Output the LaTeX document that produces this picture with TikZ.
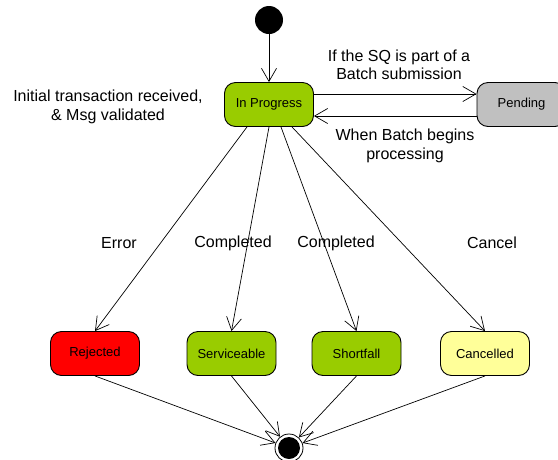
\documentclass[tikz,border=0pt]{standalone}
\usepackage{fontspec}
\setmainfont{Liberation Sans}
\usetikzlibrary{arrows.meta}
\definecolor{lgreen}{HTML}{99CC00}
\definecolor{lgray}{HTML}{C0C0C0}
\definecolor{lyellow}{HTML}{FFFF99}
\begin{document}
\begin{tikzpicture}[x=1pt,y=-1pt,
  state/.style={draw=black,line width=0.9pt,rounded corners=11pt,minimum width=89pt,minimum height=44pt,inner sep=0pt,font=\fontsize{13}{15}\selectfont},
  lbl/.style={font=\fontsize{16}{18.5}\selectfont,align=center,inner sep=0pt},
  arr/.style={line width=0.7pt,-{Straight Barb[length=13pt,width=15pt,line width=0.7pt]}},
  ln/.style={line width=0.7pt}]
\useasboundingbox (0,0) rectangle (558,459);
\node[circle,fill=black,minimum size=28pt,inner sep=0pt] (init) at (269,20) {};
\node[state,fill=lgreen] (ip) at (269,104.5) {In Progress};
\node[state,fill=lgray] (pend) at (521.5,104.5) {Pending};
\node[state,fill=red] (rej) at (95,353.5) {Rejected};
\node[state,fill=lgreen] (serv) at (231.5,353.5) {Serviceable};
\node[state,fill=lgreen] (short) at (356.5,353.5) {Shortfall};
\node[state,fill=lyellow] (canc) at (485,353.5) {Cancelled};
\node[circle,draw=black,line width=0.8pt,minimum size=28pt,inner sep=0pt] (fin) at (289,448) {};
\node[circle,fill=black,minimum size=22pt,inner sep=0pt] (fincore) at (289,448) {};

\draw[arr] (init) -- (ip);
\draw[arr] ([yshift=10.5pt]ip.east) -- ([yshift=10.5pt]pend.west);
\draw[arr] ([yshift=-11.5pt]pend.west) -- ([yshift=-11.5pt]ip.east);
\draw[arr] ([xshift=-22pt]ip.south) -- (rej.north);
\draw[arr] (ip.south) -- (serv.north);
\draw[arr] ([xshift=12pt]ip.south) -- (short.north);
\draw[arr] ([xshift=23pt]ip.south) -- (canc.north);
\draw[arr] (rej.south) -- (fin);
\draw[arr] (serv.south) -- (fin);
\draw[arr] (short.south) -- (fin);
\draw[arr] (canc.south) -- (fin);

\node[lbl] (l1) at (399,65) {If the SQ is part of a\\Batch submission};
\node[lbl] (l2) at (405,146) {When Batch begins\\processing};
\node[lbl] (l3) at (108,107) {Initial transaction received,\\\& Msg validated};
\node[lbl] (l4) at (119,243) {Error};
\node[lbl] (l5) at (233,243) {Completed};
\node[lbl] (l6) at (336,243) {Completed};
\node[lbl] (l7) at (492,243) {Cancel};
\end{tikzpicture}
\end{document}
